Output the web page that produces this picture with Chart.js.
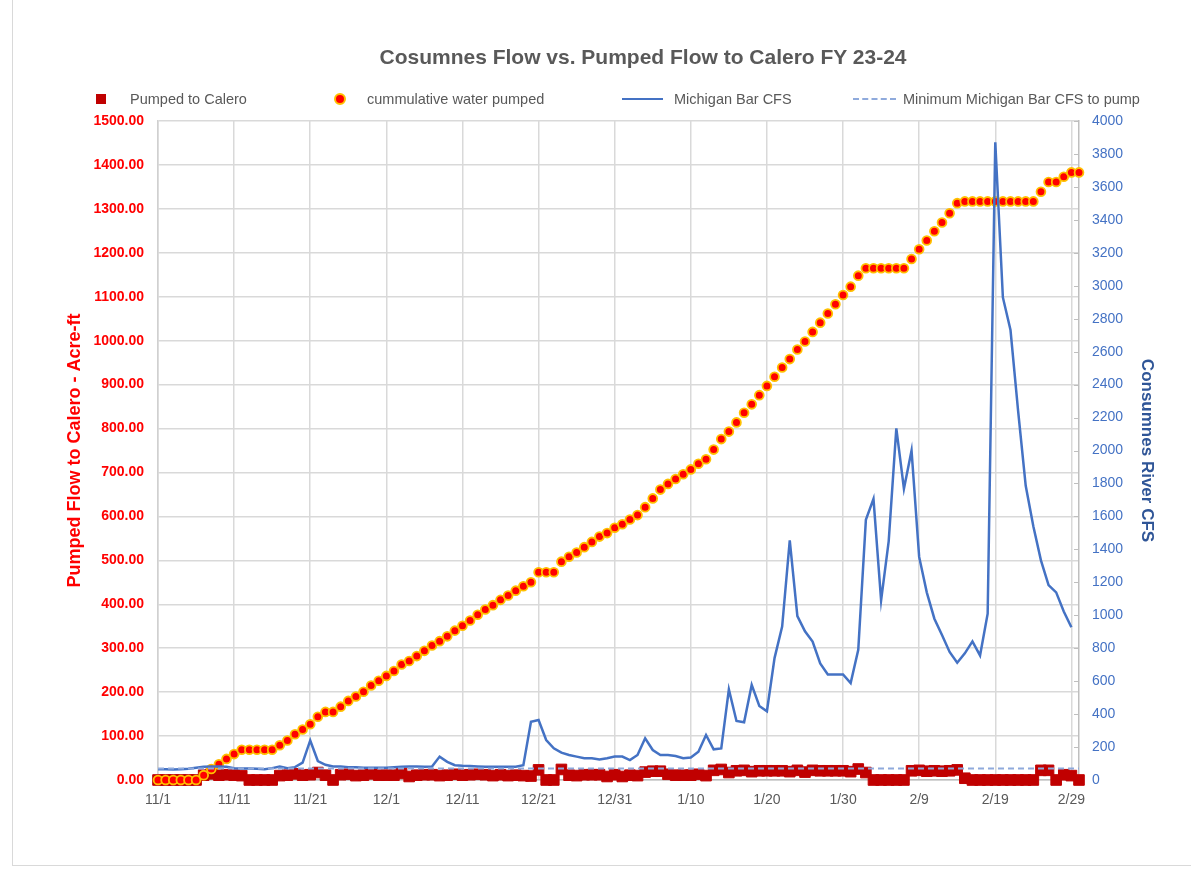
<!DOCTYPE html>
<html>
<head>
<meta charset="utf-8">
<title>Cosumnes Flow vs. Pumped Flow to Calero FY 23-24</title>
<script src="https://cdn.jsdelivr.net/npm/chart.js@4.4.1/dist/chart.umd.min.js"></script>
<style>
  body { margin: 0; background: #fff; }
  #wrap { position: relative; width: 1191px; height: 872px; overflow: hidden; font-family: "Liberation Sans", Arial, sans-serif; color: #595959; }
  #frame { position: absolute; left: 12px; top: -2px; width: 1185px; height: 867px; border-left: 1px solid #d9d9d9; border-bottom: 1px solid #d9d9d9; }
  #title { position: absolute; left: 143px; width: 1000px; top: 45px; text-align: center; font-size: 21px; line-height: 24px; font-weight: bold; }
  .lg { position: absolute; top: 91px; font-size: 14.5px; line-height: 16px; white-space: nowrap; }
  .mk { position: absolute; }
  canvas { position: absolute; left: 0; top: 0; }
</style>
</head>
<body>
<div id="wrap">
  <div id="frame"></div>
  <canvas id="flowChart" width="1191" height="872"></canvas>
  <div id="title">Cosumnes Flow vs. Pumped Flow to Calero FY 23-24</div>

  <div class="mk" style="left:96px;top:94px;width:10px;height:10px;background:#c00000"></div>
  <div class="lg" style="left:130px">Pumped to Calero</div>

  <div class="mk" style="left:334px;top:93px;width:8px;height:8px;border-radius:50%;background:#ff0000;border:2px solid #ffc000"></div>
  <div class="lg" style="left:367px">cummulative water pumped</div>

  <div class="mk" style="left:622px;top:98px;width:41px;height:0;border-top:2.5px solid #4472c4"></div>
  <div class="lg" style="left:674px">Michigan Bar CFS</div>

  <div class="mk" style="left:853px;top:98px;width:43px;height:0;border-top:2px dashed #8faadc"></div>
  <div class="lg" style="left:903px">Minimum Michigan Bar CFS to pump</div>
</div>

<script>
// one label per day, 11/1/2023 .. 3/1/2024
const dates = [
  '11/1','11/2','11/3','11/4','11/5','11/6','11/7','11/8','11/9','11/10',
  '11/11','11/12','11/13','11/14','11/15','11/16','11/17','11/18','11/19','11/20',
  '11/21','11/22','11/23','11/24','11/25','11/26','11/27','11/28','11/29','11/30',
  '12/1','12/2','12/3','12/4','12/5','12/6','12/7','12/8','12/9','12/10',
  '12/11','12/12','12/13','12/14','12/15','12/16','12/17','12/18','12/19','12/20',
  '12/21','12/22','12/23','12/24','12/25','12/26','12/27','12/28','12/29','12/30',
  '12/31','1/1','1/2','1/3','1/4','1/5','1/6','1/7','1/8','1/9',
  '1/10','1/11','1/12','1/13','1/14','1/15','1/16','1/17','1/18','1/19',
  '1/20','1/21','1/22','1/23','1/24','1/25','1/26','1/27','1/28','1/29',
  '1/30','1/31','2/1','2/2','2/3','2/4','2/5','2/6','2/7','2/8',
  '2/9','2/10','2/11','2/12','2/13','2/14','2/15','2/16','2/17','2/18',
  '2/19','2/20','2/21','2/22','2/23','2/24','2/25','2/26','2/27','2/28',
  '2/29','3/1'
]

// labels shown on the x axis
const tickLabels = ['11/1','11/11','11/21','12/1','12/11','12/21','12/31','1/10','1/20','1/30','2/9','2/19','2/29']

// acre-ft pumped each day
const pumped = [
  0,0,0,0,0,0,11,14,11,12,
  11,10,0,0,0,0,10,11,14,11,
  12,17,11,0,12,13,10,11,14,11,
  11,11,15,8,11,12,12,10,11,13,
  11,12,13,12,10,12,10,11,10,9,
  23,0,0,24,11,10,12,12,12,8,
  12,8,11,10,18,20,20,13,11,11,
  11,13,10,22,24,17,21,22,19,21,
  21,21,21,19,22,18,22,21,21,21,
  21,19,25,17,0,0,0,0,0,21,
  22,20,21,20,21,23,4,0,0,0,
  0,0,0,0,0,0,22,22,0,12,
  10,0
]

// cumulative acre-ft
const cumulative = [
  0,0,0,0,0,0,11,25,36,48,
  59,69,69,69,69,69,79,90,104,115,
  127,144,155,155,167,180,190,201,215,226,
  237,248,263,271,282,294,306,316,327,340,
  351,363,376,388,398,410,420,431,441,450,
  473,473,473,497,508,518,530,542,554,562,
  574,582,593,603,621,641,661,674,685,696,
  707,720,730,752,776,793,814,836,855,876,
  897,918,939,958,980,998,1020,1041,1062,1083,
  1104,1123,1148,1165,1165,1165,1165,1165,1165,1186,
  1208,1228,1249,1269,1290,1313,1317,1317,1317,1317,
  1317,1317,1317,1317,1317,1317,1339,1361,1361,1373,
  1383,1383
]

// Michigan Bar flow, CFS
const michiganBar = [
  65,65,63,65,68,75,80,82,82,80,
  72,70,70,68,65,72,82,72,78,105,
  240,115,92,82,82,78,78,75,75,75,
  75,78,80,82,82,80,82,142,110,90,
  86,85,82,80,80,80,80,80,90,354,
  364,243,192,166,152,142,132,132,125,132,
  142,142,121,152,253,182,152,152,146,132,
  136,172,273,186,192,550,358,350,577,449,
  417,740,931,1455,995,903,840,707,641,641,
  641,588,790,1579,1706,1090,1450,2134,1768,1999,
  1354,1139,979,880,777,712,769,841,756,1010,
  3871,2929,2731,2240,1786,1540,1333,1183,1139,1023,
  927,null
]

const minPumpCfs = 70
const minLine = dates.map(() => minPumpCfs)

const gridColor = '#d9d9d9'

// small tick marks on the inside of the right axis
const innerTicks = {
  id: 'innerTicks',
  beforeDatasetsDraw(chart) {
    const s = chart.scales.yRight
    const ctx = chart.ctx
    ctx.save()
    ctx.strokeStyle = '#bfbfbf'
    ctx.lineWidth = 1
    s.ticks.forEach((t, i) => {
      const y = Math.round(s.getPixelForTick(i)) + 0.5
      ctx.beginPath()
      ctx.moveTo(s.left - 5, y)
      ctx.lineTo(s.left, y)
      ctx.stroke()
    })
    ctx.restore()
  }
}

const ctx = document.getElementById('flowChart').getContext('2d')
new Chart(ctx, {
  type: 'line',
  data: {
    labels: dates,
    datasets: [
      {
        label: 'Pumped to Calero',
        data: pumped,
        yAxisID: 'yLeft',
        showLine: false,
        pointStyle: 'rect',
        pointRadius: 7.5,
        pointBackgroundColor: '#c00000',
        pointBorderColor: '#c00000',
        pointBorderWidth: 1,
        clip: false,
        order: 4
      },
      {
        label: 'cummulative water pumped',
        data: cumulative,
        yAxisID: 'yLeft',
        showLine: false,
        pointStyle: 'circle',
        pointRadius: 4.4,
        pointBackgroundColor: '#ff0000',
        pointBorderColor: '#ffc000',
        pointBorderWidth: 1.8,
        clip: false,
        order: 3
      },
      {
        label: 'Michigan Bar CFS',
        data: michiganBar,
        yAxisID: 'yRight',
        borderColor: '#4472c4',
        borderWidth: 2.5,
        pointRadius: 0,
        tension: 0,
        order: 2
      },
      {
        label: 'Minimum Michigan Bar CFS to pump',
        data: minLine,
        yAxisID: 'yRight',
        borderColor: '#8faadc',
        borderWidth: 2,
        borderDash: [6, 4],
        pointRadius: 0,
        order: 1
      }
    ]
  },
  options: {
    responsive: false,
    animation: false,
    layout: { padding: { left: 60, right: 30, top: 121, bottom: 0 } },
    plugins: {
      legend: { display: false },
      tooltip: { enabled: false }
    },
    scales: {
      x: {
        offset: false,
        afterFit: scale => { scale.height = 92 },
        grid: { color: gridColor, lineWidth: 1.5, drawTicks: false },
        border: { color: '#bfbfbf', width: 1.5 },
        ticks: {
          autoSkip: false,
          maxRotation: 0,
          padding: 12,
          color: '#595959',
          font: { family: '"Liberation Sans", Arial, sans-serif', size: 14 },
          callback: function (val, index) {
            const lbl = this.getLabelForValue(val)
            return tickLabels.includes(lbl) ? lbl : null
          }
        }
      },
      yLeft: {
        position: 'left',
        min: 0,
        max: 1500,
        afterFit: scale => { scale.width = 98 },
        grid: { color: gridColor, lineWidth: 1.5, drawTicks: false },
        border: { color: '#d0d0d0', width: 1.5 },
        ticks: {
          stepSize: 100,
          padding: 14,
          color: '#ff0000',
          font: { family: '"Liberation Sans", Arial, sans-serif', size: 14, weight: 'bold' },
          callback: v => v.toFixed(2)
        },
        title: {
          display: true,
          text: 'Pumped Flow to Calero - Acre-ft',
          color: '#ff0000',
          font: { family: '"Liberation Sans", Arial, sans-serif', size: 18, weight: 'bold' }
        }
      },
      yRight: {
        position: 'right',
        min: 0,
        max: 4000,
        afterFit: scale => { scale.width = 82 },
        grid: { drawOnChartArea: false, drawTicks: false },
        border: { color: '#bfbfbf', width: 1.5 },
        ticks: {
          stepSize: 200,
          padding: 13,
          color: '#4472c4',
          font: { family: '"Liberation Sans", Arial, sans-serif', size: 14 },
          callback: v => String(v)
        },
        title: {
          display: true,
          text: 'Consumnes River CFS',
          color: '#2f5597',
          font: { family: '"Liberation Sans", Arial, sans-serif', size: 17, weight: 'bold' }
        }
      }
    }
  },
  plugins: [innerTicks]
})
</script>
</body>
</html>
